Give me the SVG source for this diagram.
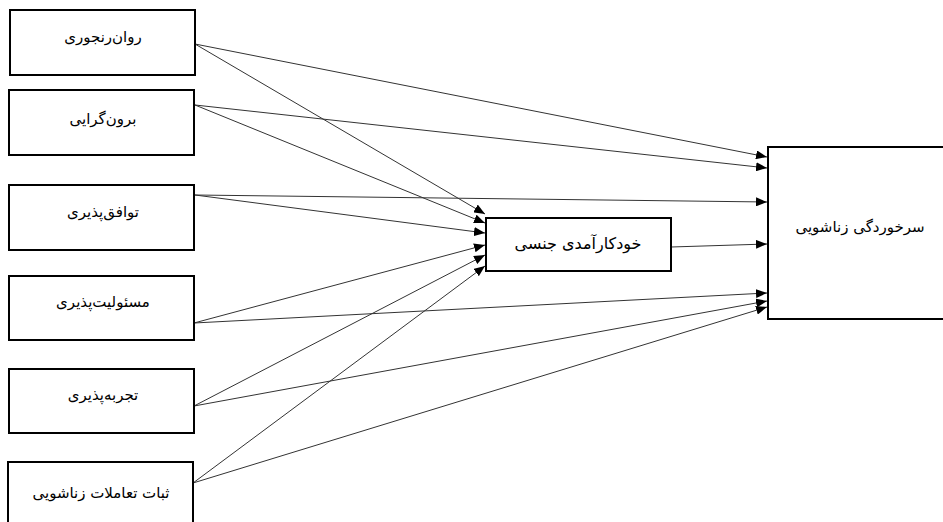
<svg xmlns="http://www.w3.org/2000/svg" width="943" height="522" viewBox="0 0 943 522">
<defs>
<marker id="ah" markerWidth="11" markerHeight="9" refX="11" refY="4.5" orient="auto" markerUnits="userSpaceOnUse">
<path d="M0,0 L11,4.5 L0,9 Z" fill="#000"/>
</marker>
<style>
.box{fill:#fff;stroke:#000;stroke-width:2}
.lbl{font-family:"DejaVu Sans","Noto Sans",sans-serif;font-size:15px;fill:#000;text-anchor:middle}
.big{font-size:16px}
.edge{stroke:#333;stroke-width:1;fill:none;marker-end:url(#ah)}
</style>
</defs>
<rect width="943" height="522" fill="#fff"/>
<g id="connectors">
<line class="edge" x1="195" y1="44" x2="767" y2="157"/>
<line class="edge" x1="195" y1="44" x2="485" y2="214"/>
<line class="edge" x1="195" y1="105" x2="767" y2="168"/>
<line class="edge" x1="195" y1="105" x2="485" y2="223"/>
<line class="edge" x1="195" y1="195" x2="767" y2="202"/>
<line class="edge" x1="195" y1="195" x2="485" y2="233"/>
<line class="edge" x1="194" y1="323" x2="485" y2="245"/>
<line class="edge" x1="194" y1="323" x2="767" y2="293"/>
<line class="edge" x1="194" y1="406" x2="485" y2="255"/>
<line class="edge" x1="194" y1="406" x2="767" y2="301"/>
<line class="edge" x1="193" y1="483" x2="485" y2="266"/>
<line class="edge" x1="193" y1="483" x2="767" y2="307"/>
<line class="edge" x1="671" y1="247" x2="767" y2="244"/>
</g>
<g id="n1"><rect class="box" x="10" y="10" width="185" height="65"/><text class="lbl" x="103" y="42">روان‌رنجوری</text></g>
<g id="n2"><rect class="box" x="9" y="90" width="185" height="65"/><text class="lbl" x="103" y="124">برون‌گرایی</text></g>
<g id="n3"><rect class="box" x="9" y="185" width="185" height="65"/><text class="lbl" x="103" y="217">توافق‌پذیری</text></g>
<g id="n4"><rect class="box" x="9" y="276" width="185" height="64"/><text class="lbl" x="103" y="307">مسئولیت‌پذیری</text></g>
<g id="n5"><rect class="box" x="9" y="369" width="185" height="64"/><text class="lbl" x="103" y="400">تجربه‌پذیری</text></g>
<g id="n6"><rect class="box" x="8" y="462" width="185" height="70"/><text class="lbl" x="101" y="498">ثبات تعاملات زناشویی</text></g>
<g id="mid"><rect class="box" x="486" y="218" width="185" height="53"/><text class="lbl big" x="578" y="249">خودکارآمدی جنسی</text></g>
<g id="out"><rect class="box" x="768" y="147" width="185" height="172"/><text class="lbl" x="860" y="232">سرخوردگی زناشویی</text></g>
</svg>
